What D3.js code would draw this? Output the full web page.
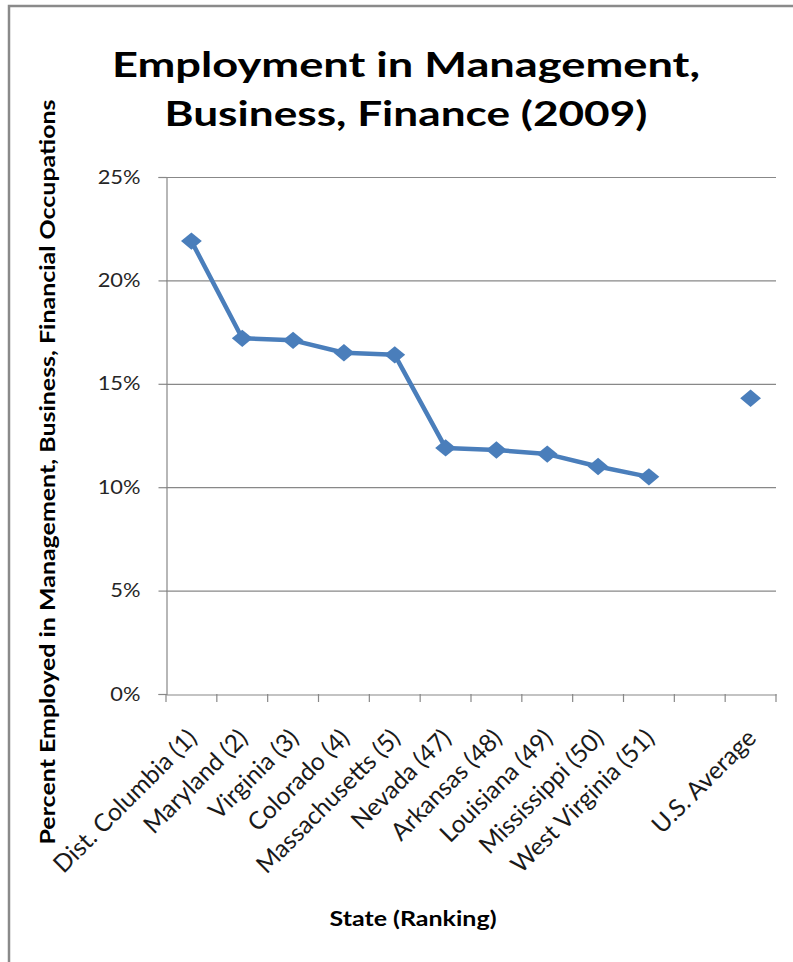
<!DOCTYPE html>
<html><head><meta charset="utf-8">
<script src="https://cdn.jsdelivr.net/npm/d3@7"></script>
<style>body{margin:0;background:#fff}svg{display:block}</style>
</head><body>
<svg id="c" width="793" height="962"></svg>
<script>
const categories = ["Dist. Columbia (1)","Maryland (2)","Virginia (3)","Colorado (4)","Massachusetts (5)","Nevada (47)","Arkansas (48)","Louisiana (49)","Mississippi (50)","West Virginia (51)","","U.S. Average"];
const values = [0.219,0.172,0.171,0.165,0.164,0.119,0.118,0.116,0.110,0.105,null,0.143];
const yTicks = [0,0.05,0.10,0.15,0.20,0.25];
const titleLines = ["Employment in Management,","Business, Finance (2009)"];
const yTitle = "Percent Employed in Management, Business,  Financial Occupations";
const xTitle = "State (Ranking)";

const svg = d3.select("#c");
const font = "Lato, 'Open Sans', sans-serif";
const L=166, R=776, T=177, B=694;

// frame
svg.append("path").attr("d",`M9,962 V6 H793`).attr("fill","none").attr("stroke","#8a8a8a").attr("stroke-width",2.5);

const x = d3.scaleBand().domain(d3.range(categories.length)).range([L,R]);
const y = d3.scaleLinear().domain([0,0.25]).range([B,T]);

// gridlines
svg.append("g").selectAll("line").data(yTicks.slice(1)).join("line")
  .attr("x1",L).attr("x2",R).attr("y1",d=>y(d)+0.5).attr("y2",d=>y(d)+0.5)
  .attr("stroke","#888").attr("stroke-width",1.2);

// y axis
const ya = svg.append("g").attr("transform",`translate(${L+0.5},0)`)
  .call(d3.axisLeft(y).tickValues(yTicks).tickFormat(d3.format(".0%")).tickSize(8).tickPadding(0));
ya.select(".domain").attr("stroke","#888").attr("stroke-width",1.2);
ya.selectAll(".tick line").attr("stroke","#888").attr("stroke-width",1.2);
ya.selectAll(".tick text").attr("font-family",font).attr("font-size",19).attr("fill","#262626")
  .attr("x",0).attr("transform",`translate(-26,0) scale(1.15,1)`);

// x axis
const xa = svg.append("g").attr("transform",`translate(0,${B+0.5})`)
  .call(d3.axisBottom(x).tickSize(0).tickFormat(i=>categories[i]));
xa.select(".domain").attr("stroke","#888").attr("stroke-width",1.2);
// boundary ticks
svg.append("g").selectAll("line").data(d3.range(categories.length+1)).join("line")
  .attr("x1",i=>L+i*x.step()).attr("x2",i=>L+i*x.step()).attr("y1",B).attr("y2",B+8)
  .attr("stroke","#888").attr("stroke-width",1.2);
xa.selectAll(".tick text").attr("font-family",font).attr("font-size",24.5).attr("fill","#1a1a1a")
  .attr("text-anchor","end").attr("dy",0).attr("y",0)
  .attr("transform",`translate(7,45) rotate(-45)`);

// line
const line = d3.line().defined(d=>d!==null).x((d,i)=>x(i)+x.bandwidth()/2).y(d=>y(d));
svg.append("path").datum(values).attr("d",line).attr("fill","none")
  .attr("stroke","#4a7ebb").attr("stroke-width",4.5).attr("stroke-linejoin","round");
svg.append("g").selectAll("path").data(values.map((v,i)=>({v,i})).filter(d=>d.v!==null)).join("path")
  .attr("d",d3.symbol(d3.symbolSquare,150))
  .attr("transform",d=>`translate(${x(d.i)+x.bandwidth()/2},${y(d.v)}) scale(1.2,1) rotate(45)`)
  .attr("fill","#4a7ebb");

// titles
svg.append("text").attr("x",406).attr("y",77).attr("text-anchor","middle").attr("font-family",font)
  .attr("font-weight","bold").attr("font-size",34).attr("fill","#000")
  .attr("textLength",588).attr("lengthAdjust","spacingAndGlyphs").text(titleLines[0]);
svg.append("text").attr("x",406).attr("y",126).attr("text-anchor","middle").attr("font-family",font)
  .attr("font-weight","bold").attr("font-size",34).attr("fill","#000")
  .attr("textLength",483).attr("lengthAdjust","spacingAndGlyphs").text(titleLines[1]);
svg.append("text").attr("transform","translate(55,472) rotate(-90)").attr("text-anchor","middle")
  .attr("font-family",font).attr("font-weight","bold").attr("font-size",20).attr("fill","#000")
  .attr("textLength",745).attr("lengthAdjust","spacingAndGlyphs").text(yTitle);
svg.append("text").attr("x",413).attr("y",926).attr("text-anchor","middle").attr("font-family",font)
  .attr("font-weight","bold").attr("font-size",20).attr("fill","#000")
  .attr("textLength",167).attr("lengthAdjust","spacingAndGlyphs").text(xTitle);
</script>
</body></html>
